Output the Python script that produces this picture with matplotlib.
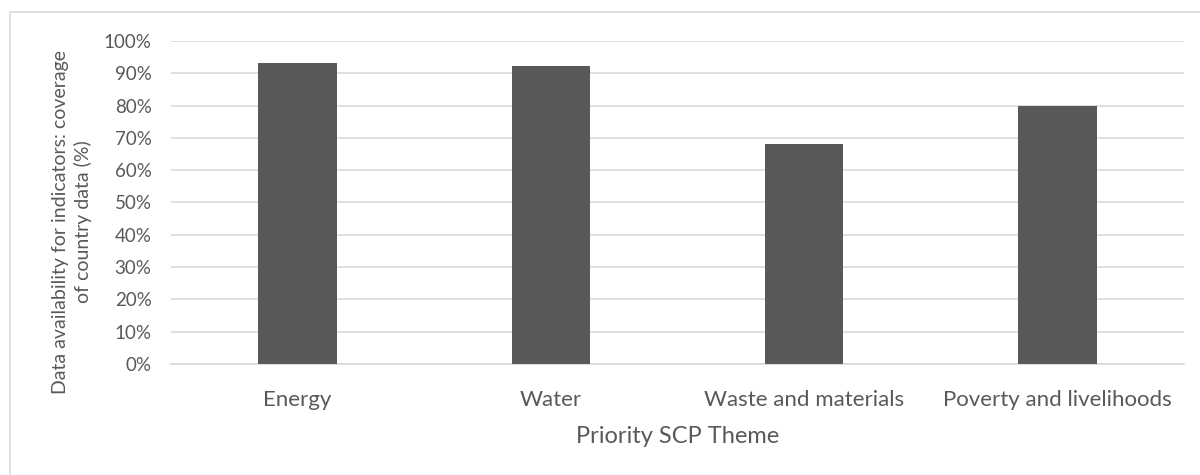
import matplotlib
matplotlib.use("Agg")
import matplotlib.pyplot as plt
from matplotlib.patches import Rectangle
from matplotlib.ticker import PercentFormatter

themes = ["Energy", "Water", "Waste and materials", "Poverty and livelihoods"]
coverage = [93.2, 92.3, 68.1, 79.9]
yticks = list(range(0, 101, 10))

txt = "#595959"
plt.rcParams["font.family"] = ["Lato", "DejaVu Sans"]

fig = plt.figure(figsize=(12, 4.75), dpi=100)
ax = fig.add_axes([0.1425, 0.2337, 0.8442, 0.68])

# outer chart border like the Excel chart frame
fig.patches.append(Rectangle((10 / 1200, -0.01), 1.0, 1 - 12 / 475 + 0.01,
                             transform=fig.transFigure, fill=False,
                             edgecolor="#d9d9d9", linewidth=1.2))

x = range(len(themes))
ax.bar(x, coverage, width=0.31, color="#595959", zorder=3)

ax.set_xlim(-0.5, len(themes) - 0.5)
ax.set_ylim(0, 100)
ax.set_yticks(yticks)
ax.yaxis.set_major_formatter(PercentFormatter(decimals=0))
ax.set_xticks(list(x))
ax.set_xticklabels(themes)
ax.grid(axis="y", color="#d9d9d9", linewidth=1.2, zorder=0)

for s in ["top", "right", "left"]:
    ax.spines[s].set_visible(False)
ax.spines["bottom"].set_color("#d9d9d9")
ax.spines["bottom"].set_linewidth(1.2)

ax.tick_params(axis="y", length=0, pad=14, labelsize=13.5, labelcolor=txt)
ax.tick_params(axis="x", length=0, pad=19, labelsize=16, labelcolor=txt)

ax.set_xlabel("Priority SCP Theme", fontsize=17, color=txt, labelpad=11)
ax.set_ylabel("Data availability for indicators: coverage\nof country data (%)",
              fontsize=14, color=txt, linespacing=1.3)
ax.yaxis.set_label_coords(-0.078, 0.44)

fig.savefig("out.png", dpi=100)
